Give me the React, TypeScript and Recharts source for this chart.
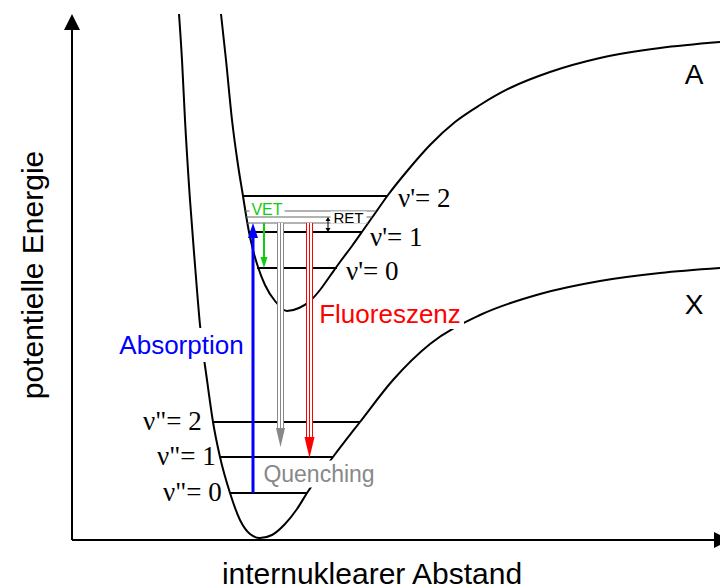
import { ComposedChart, Line, Scatter, XAxis, YAxis } from 'recharts';

const W = 720;
const H = 587;

// Distance r and energy E share one unit; the two axes meet at (0, 0).
// Ground state X
const groundR = [107, 110, 113, 118, 123, 128, 135, 141, 148, 158, 168, 178, 188, 200, 213, 225, 235, 261, 288, 321, 358, 408, 468, 528, 588, 648];
const groundE = [526, 480, 420, 340, 275, 215, 160, 118, 83, 47, 20, 6, 2, 5, 16, 31, 47, 83, 118, 160, 196, 225, 246, 259, 267, 272];
// Excited state A
const excitedR = [149, 154, 160, 166, 171, 174, 177, 181, 186, 193, 203, 215, 227, 238, 248, 258, 268, 280, 292, 304, 316, 336, 358, 383, 408, 438, 478, 528, 588, 648];
const excitedE = [526, 480, 420, 375, 344, 325, 308, 290, 273, 255, 239, 229, 232, 239, 250, 264, 278, 294, 311, 328, 345, 370, 395, 418, 435, 452, 468, 482, 492, 498];

// vibrational levels
const levelNames = ['ν"= 0', 'ν"= 1', 'ν"= 2', "ν'= 0", "ν'= 1", "ν'= 2"];
const levelE = [47, 83, 118, 272, 308, 344];
const levelFrom = [158, 148, 141, 185, 176, 171];
const levelTo = [235, 261, 288, 265, 290, 315];

// rotational sublevels above ν'=1
const rotE = [317, 323, 329];
const rotFrom = [175, 174, 173];
const rotTo = [296, 300, 304];

// transitions
const arrowNames = ['Absorption', 'VET', 'Quenching', 'Fluoreszenz'];
const arrowR = [181, 192, 208.5, 237.5];
const arrowFrom = [47, 317, 317, 317];
const arrowTo = [317, 272, 93, 82];

const retR = 256;
const retE = [308, 323];

const axisTop = 526;
const axisRight = 658;

const SANS = '"Liberation Sans", Arial, sans-serif';
const SERIF = '"Liberation Serif", "Times New Roman", serif';

const arrowStyle: Record<string, { color: string; width: number; head: number; headW: number; triple: boolean }> = {
  Absorption: { color: '#0000ff', width: 3, head: 15, headW: 10, triple: false },
  VET: { color: '#11cc11', width: 2, head: 11, headW: 7, triple: false },
  Quenching: { color: '#888888', width: 7, head: 19, headW: 9, triple: true },
  Fluoreszenz: { color: '#ff0000', width: 7, head: 21, headW: 10, triple: true },
};

// level label anchors (start of text) and small vertical shifts
const levelLabelR = [91, 85, 71, 274, 298, 326];
const levelLabelDy = [1, 1, 1, -3, -5, -2];

type Tag = {
  text: string;
  r: number;
  e: number;
  color?: string;
  size: number;
  font?: string;
  anchor?: 'start' | 'middle' | 'end';
  bg?: [number, number];
  rotate?: number;
};

const tags: Tag[] = [
  { text: 'A', r: 622, e: 466, size: 28 },
  { text: 'X', r: 622, e: 236, size: 28 },
  { text: 'Absorption', r: 109.5, e: 195, color: '#0000ff', size: 26, bg: [131, 34] },
  { text: 'Fluoreszenz', r: 318, e: 226, color: '#ff0000', size: 26, bg: [148, 30] },
  { text: 'Quenching', r: 247, e: 66, color: '#888888', size: 23, bg: [116, 27] },
  { text: 'VET', r: 195, e: 331, color: '#11cc11', size: 16, bg: [35, 13] },
  { text: 'RET', r: 276.5, e: 322.5, size: 15, bg: [36, 12] },
  { text: 'potentielle Energie', r: -40, e: 265, size: 30, rotate: -90 },
  { text: 'internuklearer Abstand', r: 300, e: -33, size: 30 },
  ...levelNames.map((t, i) => ({
    text: t,
    r: levelLabelR[i],
    e: levelE[i] + levelLabelDy[i],
    size: 27,
    font: SERIF,
    anchor: 'start' as const,
  })),
];

const seg = (x1: number, y1: number, x2: number, y2: number) => [
  { x: x1, y: y1 },
  { x: x2, y: y2 },
];

const zip = (xs: number[], ys: number[]) => xs.map((x, i) => ({ x, y: ys[i] }));

type Dir = 'up' | 'down' | 'right';

const headPoints = (cx: number, cy: number, dir: Dir, len: number, w: number) => {
  const h = w / 2;
  if (dir === 'up') return `${cx - h},${cy} ${cx + h},${cy} ${cx},${cy - len}`;
  if (dir === 'down') return `${cx - h},${cy} ${cx + h},${cy} ${cx},${cy + len}`;
  return `${cx},${cy - h} ${cx},${cy + h} ${cx + len},${cy}`;
};

// arrowhead drawn at the end point of a two-point line
const endHead = (dir: Dir, len: number, w: number, color: string) => (p: any) => {
  if (p.index !== 1 || p.cx == null) return <g key={`n${p.index}`} />;
  return <polygon key={`h${p.index}`} points={headPoints(p.cx, p.cy, dir, len, w)} fill={color} />;
};

const bothHeads = (len: number, w: number, color: string) => (p: any) => {
  if (p.cx == null) return <g key={`n${p.index}`} />;
  const dir: Dir = p.index === 0 ? 'down' : 'up';
  return <polygon key={`h${p.index}`} points={headPoints(p.cx, p.cy, dir, len, w)} fill={color} />;
};

const renderTag = (t: Tag) => (p: any) => {
  const { cx, cy } = p;
  const anchor = t.anchor ?? 'middle';
  return (
    <g transform={t.rotate ? `rotate(${t.rotate} ${cx} ${cy})` : undefined}>
      {t.bg && <rect x={cx - t.bg[0] / 2} y={cy - t.bg[1] / 2} width={t.bg[0]} height={t.bg[1]} fill="#fff" />}
      <text
        x={cx}
        y={cy}
        textAnchor={anchor}
        dominantBaseline="central"
        fontFamily={t.font ?? SANS}
        fontSize={t.size}
        fill={t.color ?? '#000'}
      >
        {t.text}
      </text>
    </g>
  );
};

const plain = { dot: false, activeDot: false, isAnimationActive: false, legendType: 'none' as const, dataKey: 'y' };

export default function App() {
  return (
    <div style={{ position: 'absolute', left: 0, top: 0, width: W, height: H, background: '#fff' }}>
      <ComposedChart width={W} height={H} margin={{ top: 0, right: 0, bottom: 0, left: 0 }}>
        <XAxis type="number" dataKey="x" domain={[-72, 648]} allowDataOverflow hide />
        <YAxis type="number" dataKey="y" domain={[-47, 540]} allowDataOverflow hide />

        {/* axes */}
        <Line {...plain} data={seg(0, 0, 0, axisTop - 16)} stroke="#000" strokeWidth={2} type="linear"
          dot={endHead('up', 16, 16, '#000')} />
        <Line {...plain} data={seg(0, 0, axisRight - 16, 0)} stroke="#000" strokeWidth={2} type="linear"
          dot={endHead('right', 16, 16, '#000')} />

        {/* potential curves */}
        <Line {...plain} data={zip(groundR, groundE)} stroke="#000" strokeWidth={2} type="monotone" />
        <Line {...plain} data={zip(excitedR, excitedE)} stroke="#000" strokeWidth={2} type="monotone" />

        {/* vibrational and rotational levels */}
        {levelE.map((e, i) => (
          <Line key={`lv${i}`} {...plain} data={seg(levelFrom[i], e, levelTo[i], e)} stroke="#000" strokeWidth={2} type="linear" />
        ))}
        {rotE.map((e, i) => (
          <Line key={`rot${i}`} {...plain} data={seg(rotFrom[i], e, rotTo[i], e)} stroke="#666" strokeWidth={1} type="linear" />
        ))}

        {/* transitions */}
        {arrowNames.map((name, i) => {
          const s = arrowStyle[name];
          const sign = arrowTo[i] > arrowFrom[i] ? 1 : -1;
          const data = seg(arrowR[i], arrowFrom[i], arrowR[i], arrowTo[i] - sign * s.head);
          const dir: Dir = sign > 0 ? 'up' : 'down';
          const head = endHead(dir, s.head, s.headW, s.color);
          if (!s.triple) {
            return <Line key={`ar${i}`} {...plain} data={data} stroke={s.color} strokeWidth={s.width} type="linear" dot={head} />;
          }
          return [
            <Line key={`ar${i}a`} {...plain} data={data} stroke={s.color} strokeWidth={s.width} type="linear" />,
            <Line key={`ar${i}b`} {...plain} data={data} stroke="#fff" strokeWidth={s.width - 2} type="linear" />,
            <Line key={`ar${i}c`} {...plain} data={data} stroke={s.color} strokeWidth={1} type="linear" dot={head} />,
          ];
        })}
        <Line {...plain} data={seg(retR, retE[0] + 4, retR, retE[1] - 4)} stroke="#000" strokeWidth={1} type="linear"
          dot={bothHeads(4, 5, '#000')} />

        {/* labels */}
        {tags.map((t, i) => (
          <Scatter key={`tag${i}`} data={[{ x: t.r, y: t.e }]} dataKey="y" isAnimationActive={false} legendType="none"
            shape={renderTag(t)} />
        ))}
      </ComposedChart>
    </div>
  );
}
